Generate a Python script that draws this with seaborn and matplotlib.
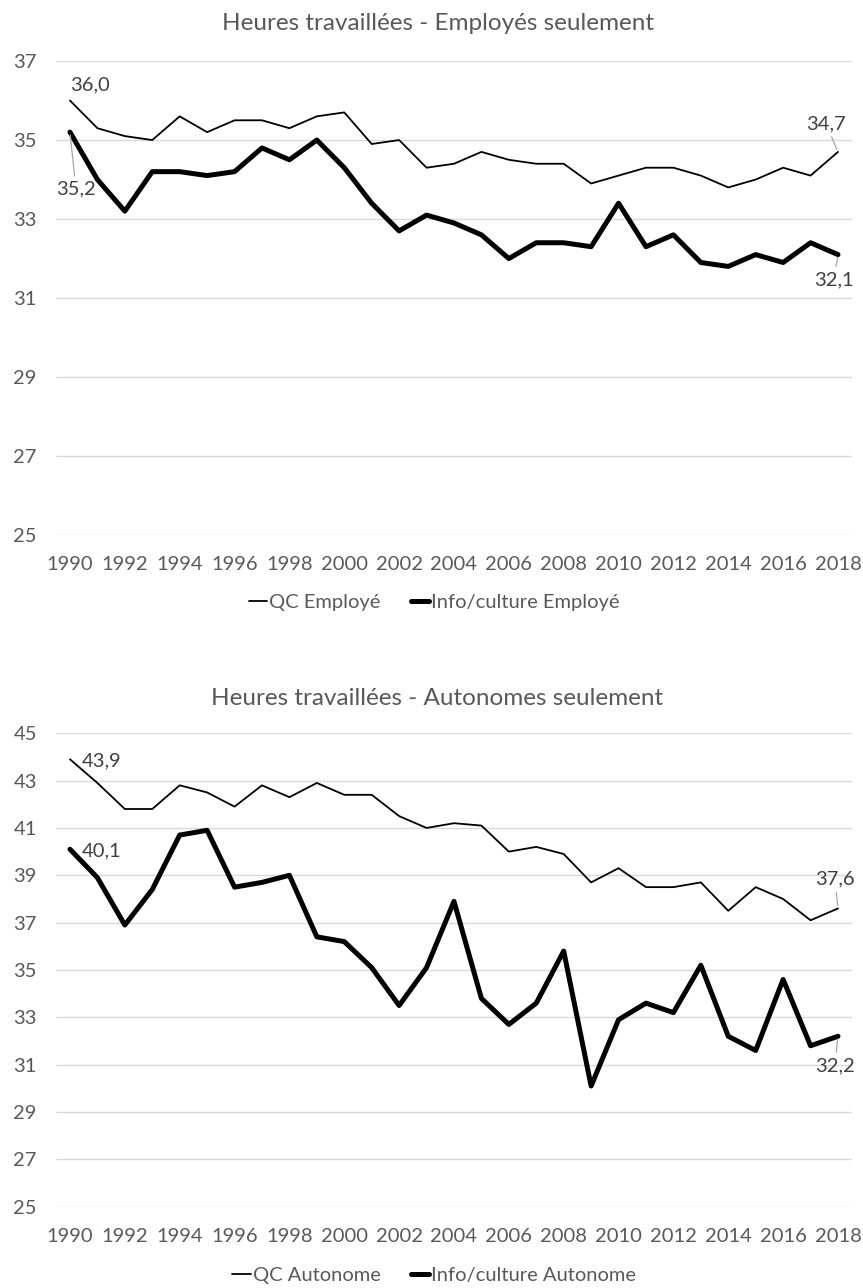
import matplotlib
matplotlib.use("Agg")
import matplotlib.pyplot as plt
import seaborn as sns
import pandas as pd
from matplotlib.lines import Line2D

years = list(range(1990, 2019))

qc_employe = [36.0, 35.3, 35.1, 35.0, 35.6, 35.2, 35.5, 35.5, 35.3,
              35.6, 35.7, 34.9, 35.0, 34.3, 34.4, 34.7, 34.5, 34.4, 34.4,
              33.9, 34.1, 34.3, 34.3, 34.1, 33.8, 34.0, 34.3, 34.1, 34.7]
info_employe = [35.2, 34.0, 33.2, 34.2, 34.2, 34.1, 34.2, 34.8, 34.5,
                35.0, 34.3, 33.4, 32.7, 33.1, 32.9, 32.6, 32.0, 32.4, 32.4,
                32.3, 33.4, 32.3, 32.6, 31.9, 31.8, 32.1, 31.9, 32.4, 32.1]
qc_autonome = [43.9, 42.9, 41.8, 41.8, 42.8, 42.5, 41.9, 42.8, 42.3,
               42.9, 42.4, 42.4, 41.5, 41.0, 41.2, 41.1, 40.0, 40.2, 39.9,
               38.7, 39.3, 38.5, 38.5, 38.7, 37.5, 38.5, 38.0, 37.1, 37.6]
info_autonome = [40.1, 38.9, 36.9, 38.4, 40.7, 40.9, 38.5, 38.7, 39.0,
                 36.4, 36.2, 35.1, 33.5, 35.1, 37.9, 33.8, 32.7, 33.6, 35.8,
                 30.1, 32.9, 33.6, 33.2, 35.2, 32.2, 31.6, 34.6, 31.8, 32.2]

titles = ["Heures travaillées - Employés seulement",
          "Heures travaillées - Autonomes seulement"]
series_names = [["QC Employé", "Info/culture Employé"],
                ["QC Autonome", "Info/culture Autonome"]]
yticks_top = [25, 27, 29, 31, 33, 35, 37]
yticks_bottom = [25, 27, 29, 31, 33, 35, 37, 39, 41, 43, 45]
xticks = list(range(1990, 2019, 2))

sns.set_theme(style="white")
plt.rcParams["font.family"] = ["Lato", "DejaVu Sans"]

TICK_C = "#595959"
LABEL_C = "#404040"
GRID_C = "#D9D9D9"
FS = 14.5

fig = plt.figure(figsize=(8.63, 12.88), dpi=100)
ax1 = fig.add_axes([0.0652, 0.5846, 0.9217, 0.3680])
ax2 = fig.add_axes([0.0652, 0.0631, 0.9217, 0.3676])


def fmt(v):
    return f"{v:.1f}".replace(".", ",")


def draw(ax, qc, info, names, yticks, title, title_y, legend_y, labels):
    df = pd.DataFrame({"Année": years * 2,
                       "Heures": qc + info,
                       "Série": [names[0]] * len(years) + [names[1]] * len(years)})
    sns.lineplot(data=df[df["Série"] == names[0]], x="Année", y="Heures",
                 color="black", linewidth=1.3, ax=ax, legend=False)
    sns.lineplot(data=df[df["Série"] == names[1]], x="Année", y="Heures",
                 color="black", linewidth=3.6, ax=ax, legend=False)
    ax.set_xlim(1989.5, 2018.5)
    ax.set_ylim(yticks[0], yticks[-1])
    ax.set_yticks(yticks)
    ax.set_xticks(xticks)
    ax.set_xlabel("")
    ax.set_ylabel("")
    ax.grid(axis="y", color=GRID_C, linewidth=1.0)
    ax.grid(axis="x", visible=False)
    for s in ax.spines.values():
        s.set_visible(False)
    ax.tick_params(axis="both", length=0, labelsize=FS, colors=TICK_C)
    ax.tick_params(axis="y", pad=14)
    ax.tick_params(axis="x", pad=15)
    ax.set_axisbelow(True)
    fig.text(0.507, title_y, title, ha="center", va="center",
             fontsize=17.5, color=TICK_C)
    handles = [Line2D([], [], color="black", linewidth=1.3),
               Line2D([], [], color="black", linewidth=3.6)]
    fig.legend(handles, names, loc="center", bbox_to_anchor=(0.503, legend_y),
               ncol=2, frameon=False, fontsize=FS, handlelength=0.9,
               handletextpad=0.1, columnspacing=1.5, labelcolor=TICK_C)
    for (x, y, dx, dy, leader) in labels:
        kw = {}
        if leader:
            kw["arrowprops"] = dict(arrowstyle="-", color="#A6A6A6",
                                    linewidth=0.9, shrinkA=1, shrinkB=2)
        ax.annotate(fmt(y), xy=(x, y), xytext=(dx, dy),
                    textcoords="offset points", ha="center", va="center",
                    fontsize=FS, color=LABEL_C, **kw)


draw(ax1, qc_employe, info_employe, series_names[0], yticks_top, titles[0],
     0.982, 0.5326,
     [(years[0], qc_employe[0], 14.4, 11.2, False),
      (years[0], info_employe[0], 4.3, -41, True),
      (years[-1], qc_employe[-1], -8.6, 20.2, True),
      (years[-1], info_employe[-1], -2.9, -18, True)])
draw(ax2, qc_autonome, info_autonome, series_names[1], yticks_bottom, titles[1],
     0.458, 0.0099,
     [(years[0], qc_autonome[0], 23, -1.4, False),
      (years[0], info_autonome[0], 23, -1.4, False),
      (years[-1], qc_autonome[-1], -2.2, 21, True),
      (years[-1], info_autonome[-1], -2.2, -21, True)])

fig.savefig("out.png", dpi=100, facecolor="white")
